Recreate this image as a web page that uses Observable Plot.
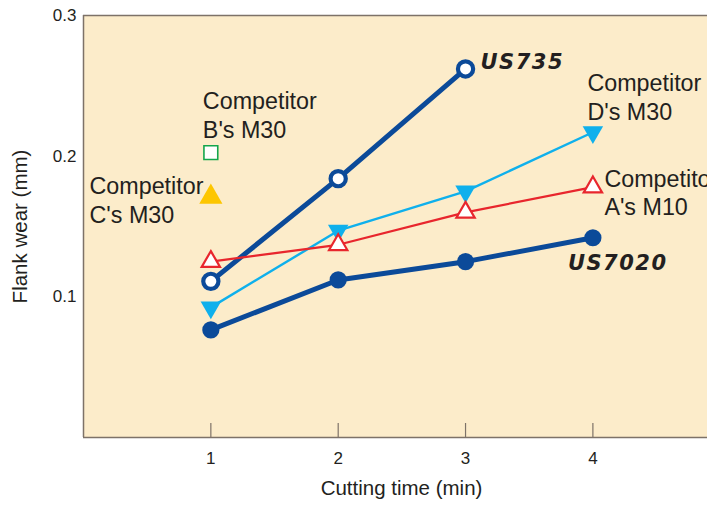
<!DOCTYPE html>
<html><head><meta charset="utf-8">
<script src="https://cdn.jsdelivr.net/npm/d3@7"></script>
<script src="https://cdn.jsdelivr.net/npm/@observablehq/plot@0.6"></script>
<style>body{margin:0;background:#fff;}</style>
</head><body><div id="chart"></div>
<script>
// ---- data ----
const times = [1, 2, 3, 4];
const us735 = [0.111, 0.184, 0.262];
const us7020 = [0.0765, 0.112, 0.125, 0.142];
const compA = [0.125, 0.137, 0.160, 0.178];
const compD = [0.0925, 0.147, 0.175, 0.217];
const compB = [0.2025];
const compC = [0.171];
const xTicks = [1, 2, 3, 4];
const yTicks = [0.1, 0.2, 0.3];
const xLabel = "Cutting time (min)";
const yLabel = "Flank wear (mm)";
const labelUS735 = "US735";
const labelUS7020 = "US7020";
const labelA = "Competitor\nA's M10";
const labelB = "Competitor\nB's M30";
const labelC = "Competitor\nC's M30";
const labelD = "Competitor\nD's M30";

const rows = (vals) => vals.map((v, i) => ({t: times[i], w: v}));
const last = (vals) => [rows(vals)[vals.length - 1]];

const navy = "#0b4a99", sky = "#0fb0ec", red = "#e8262d", green = "#14a64c", yellow = "#fdc600";
const bg = "#fcecca", frameColor = "#7d7268", ink = "#231f20";

const downTriangle = {
  draw(context, size) {
    const y = -Math.sqrt(size / (Math.sqrt(3) * 3));
    context.moveTo(0, -y * 2);
    context.lineTo(-Math.sqrt(3) * y, y);
    context.lineTo(Math.sqrt(3) * y, y);
    context.closePath();
  }
};

const W = 707, H = 507, mT = 15, mB = 70, mL = 83, mR = 0;
const plotH = H - mT - mB;
const annFont = 23.3;
const usFont = {fontFamily: "DejaVu Sans", fontWeight: "bold", fontStyle: "italic", fontSize: 21, fill: ink};

const chart = Plot.plot({
  width: W, height: H,
  marginTop: mT, marginBottom: mB, marginLeft: mL, marginRight: mR,
  style: {fontFamily: "Liberation Sans, Arial, sans-serif", background: "white", color: ink, overflow: "hidden"},
  x: {domain: [0, 4.9]},
  y: {domain: [0, 0.3]},
  marks: [
    Plot.frame({fill: bg, stroke: null}),
    Plot.ruleX([0], {stroke: frameColor, strokeWidth: 1.5}),
    Plot.ruleY([0, 0.3], {stroke: frameColor, strokeWidth: 1.5}),
    Plot.tickX(xTicks, {x: d => d, stroke: frameColor, strokeWidth: 1.2, insetTop: plotH - 14}),
    Plot.axisX({ticks: xTicks, tickSize: 0, tickPadding: 14, fontSize: 17, tickFormat: d3.format("d"), label: null}),
    Plot.axisY({ticks: yTicks, tickSize: 0, tickPadding: 7, fontSize: 17, tickFormat: d3.format(".1f"), label: null}),
    Plot.text([xLabel], {frameAnchor: "bottom", textAnchor: "middle", dx: 6, dy: 57, fontSize: 20.5, fill: ink}),
    Plot.text([yLabel], {frameAnchor: "left", textAnchor: "middle", rotate: -90, dx: -63, fontSize: 20.5, fill: ink}),

    // lines
    Plot.line(rows(us7020), {x: "t", y: "w", stroke: navy, strokeWidth: 5}),
    Plot.line(rows(us735), {x: "t", y: "w", stroke: navy, strokeWidth: 5}),
    Plot.line(rows(compD), {x: "t", y: "w", stroke: sky, strokeWidth: 2.4}),
    Plot.line(rows(compA), {x: "t", y: "w", stroke: red, strokeWidth: 2.2}),

    // markers
    Plot.dot(rows(us7020), {x: "t", y: "w", r: 8.6, fill: navy, stroke: null}),
    Plot.dot(rows(us735), {x: "t", y: "w", r: 7.6, fill: "white", stroke: navy, strokeWidth: 4.2}),
    Plot.dot(rows(compD), {x: "t", y: "w", symbol: downTriangle, r: 7.6, fill: sky, stroke: null}),
    Plot.dot(rows(compA), {x: "t", y: "w", symbol: "triangle", r: 6.8, fill: "white", stroke: red, strokeWidth: 2.2}),
    Plot.dot(rows(compB), {x: "t", y: "w", symbol: "square", r: 7.8, fill: "white", stroke: green, strokeWidth: 1.6}),
    Plot.dot(rows(compC), {x: "t", y: "w", symbol: "triangle", r: 8.6, fill: yellow, stroke: null}),

    // annotations
    Plot.text(last(us735), {x: "t", y: "w", text: () => labelUS735, textAnchor: "start", dx: 15, dy: -6.5, ...usFont}),
    Plot.text(last(us7020), {x: "t", y: "w", text: () => labelUS7020, textAnchor: "start", dx: -25, dy: 26, ...usFont}),
    Plot.text(last(compB), {x: "t", y: "w", text: () => labelB, textAnchor: "start", dx: -8, dy: -38.6, lineHeight: 1.25, fontSize: annFont, fill: ink}),
    Plot.text(last(compC), {y: "w", frameAnchor: "left", text: () => labelC, textAnchor: "start", dx: 6, dy: 2, lineHeight: 1.25, fontSize: annFont, fill: ink}),
    Plot.text(last(compD), {x: "t", y: "w", text: () => labelD, textAnchor: "start", dx: -5.5, dy: -36, lineHeight: 1.22, fontSize: annFont, fill: ink}),
    Plot.text(last(compA), {x: "t", y: "w", text: () => labelA, textAnchor: "start", dx: 11.5, dy: 5, lineHeight: 1.22, fontSize: annFont, fill: ink})
  ]
});

d3.select(chart).selectAll("text").each(function() {
  const t = this.textContent;
  if (t === labelUS735 || t === labelUS7020) this.style.letterSpacing = "1.5px";
});
document.getElementById("chart").appendChild(chart);
</script>
</body></html>
